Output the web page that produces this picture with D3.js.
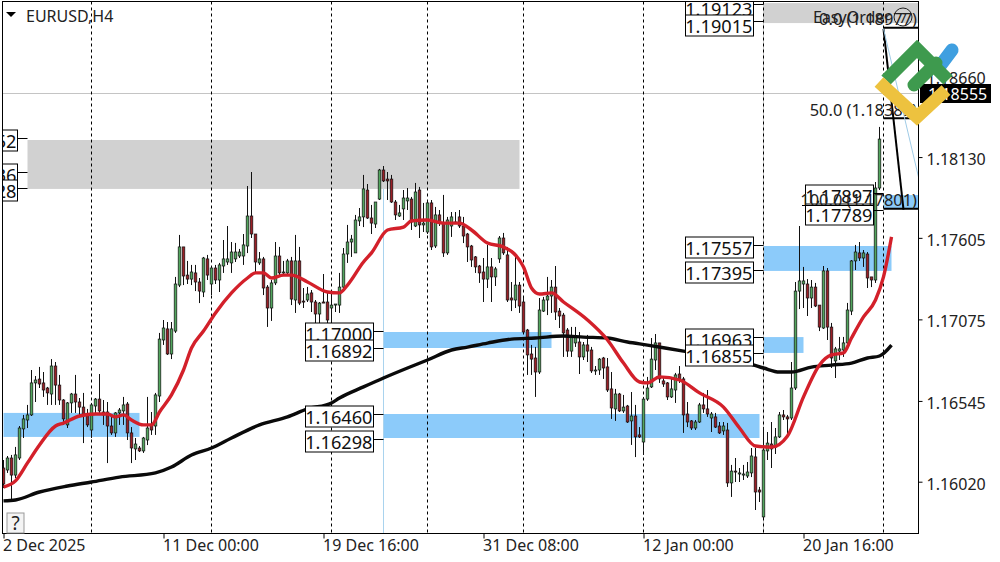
<!DOCTYPE html>
<html><head><meta charset="utf-8">
<script src="https://cdnjs.cloudflare.com/ajax/libs/d3/7.8.5/d3.min.js"></script>
<style>html,body{margin:0;padding:0;background:#fff}svg{display:block}text{font-family:"Noto Sans",Tahoma,sans-serif}</style>
</head><body><svg id="c" width="1000" height="562"></svg>
<script>
// Prices in points (1e-5)
const highs=[116174,116200,116207,116259,116395,116467,116532,116759,116720,116779,116746,116649,116830,116811,116727,116570,116551,116610,116727,116577,
116610,116506,116545,116577,116733,116564,116551,116467,116486,116512,116584,116551,116388,116317,116265,116324,116584,116486,116610,117000,
117084,117071,117071,117364,117637,117559,117468,117442,117442,117357,117494,117507,117429,117442,117455,117604,117695,117591,117585,117546,
117643,117955,118046,117643,117526,117494,117311,117344,117591,117559,117468,117481,117494,117637,117559,117292,117299,117279,117214,117201,
117383,117260,117260,117188,117390,117552,117702,117637,117767,117812,118027,117968,117832,117851,118066,118085,118046,118027,117864,117832,
117929,117942,117884,117975,117949,117845,117864,117864,117819,117799,117897,117754,117786,117786,117799,117754,117650,117572,117500,117442,
117487,117572,117487,117429,117630,117650,117559,117331,117520,117331,117227,117026,116922,116909,117227,117234,117364,117344,117435,117162,
117130,117032,117039,117039,117006,116941,116987,116909,116785,116837,116844,116837,116746,116636,116610,116597,116532,116616,116532,116388,
116584,116714,116967,116993,116935,116714,116681,116714,116740,116785,116714,116551,116434,116434,116545,116610,116629,116486,116480,116421,
116421,116415,116142,116187,116122,116142,116161,116252,116252,115999,116388,116356,116421,116382,116486,116499,116467,116811,117331,117695,
117429,117350,117344,117325,117181,117435,117422,117065,116909,116974,116974,117195,117474,117572,117591,117539,117526,117364,117981,118339];
const lows=[115992,116090,115914,116057,116174,116317,116382,116460,116551,116642,116584,116532,116532,116532,116532,116402,116382,116480,116480,116467,
116284,116388,116317,116467,116467,116402,116154,116337,116324,116402,116402,116304,116154,116174,116226,116220,116271,116337,116337,116551,
116922,116857,116830,117000,117298,117311,117318,117311,117272,117194,117233,117344,117246,117318,117266,117390,117442,117390,117461,117487,
117442,117519,117617,117390,117442,117246,117039,117078,117311,117376,117383,117376,117181,117130,117181,117162,117201,117136,117064,117064,
117194,117064,117064,117136,117130,117292,117455,117494,117520,117695,117688,117741,117643,117682,117864,117981,117864,117845,117734,117754,
117734,117799,117669,117688,117617,117656,117643,117539,117552,117695,117494,117507,117624,117708,117682,117584,117461,117429,117390,117325,
117201,117292,117201,117305,117455,117507,117201,117142,117162,117130,117000,116727,116727,116584,116733,117136,117116,117130,117084,117032,
116844,116844,116844,116909,116733,116824,116811,116740,116727,116727,116701,116616,116441,116428,116486,116480,116415,116272,116193,116317,
116207,116558,116642,116759,116675,116649,116564,116577,116545,116675,116350,116388,116369,116369,116415,116480,116454,116356,116382,116343,
116337,115999,115934,116031,116031,116044,116057,116063,115849,115901,115797,116174,116122,116213,116317,116434,116337,116434,116629,117155,
117162,117110,117162,117168,117012,117026,116954,116772,116707,116824,116844,116922,117116,117409,117468,117429,117292,117298,117325,117929];
const opens=[116122,116109,116187,116076,116187,116376,116434,116467,116675,116700,116675,116642,116603,116785,116661,116564,116402,116545,116603,116551,
116518,116467,116369,116525,116570,116486,116486,116395,116350,116480,116493,116538,116350,116246,116252,116233,116304,116402,116395,116590,
116954,117026,116863,117012,117311,117559,117376,117350,117390,117331,117266,117481,117318,117422,117344,117435,117461,117455,117481,117500,
117500,117565,117760,117643,117455,117481,117298,117162,117325,117500,117390,117390,117468,117214,117468,117207,117214,117260,117201,117123,
117201,117201,117162,117181,117181,117298,117513,117591,117520,117728,117754,117929,117747,117708,117870,118059,118000,118000,117851,117760,
117806,117858,117870,117695,117929,117702,117656,117845,117565,117767,117714,117520,117695,117714,117754,117695,117643,117565,117494,117435,
117396,117350,117429,117364,117481,117617,117507,117227,117214,117311,117201,117019,116863,116837,116746,117142,117214,117240,117298,117142,
117116,117019,116882,116935,116941,116844,116922,116889,116753,116759,116837,116779,116636,116506,116603,116493,116525,116428,116460,116337,
116291,116570,116649,116824,116935,116688,116675,116584,116629,116733,116701,116473,116428,116382,116421,116532,116506,116447,116454,116395,
116363,116369,116025,116102,116083,116076,116070,116090,116194,115979,115804,116233,116278,116258,116324,116467,116454,116447,116642,117272,
117318,117318,117227,117298,117181,117032,117403,117038,116818,116882,116889,116935,117142,117468,117520,117487,117513,117364,117344,117942];
const closes=[116018,116187,116076,116207,116382,116441,116467,116675,116694,116668,116629,116610,116785,116661,116564,116441,116545,116603,116551,116518,
116467,116402,116532,116570,116493,116467,116395,116350,116480,116499,116532,116350,116252,116278,116233,116317,116382,116369,116597,116960,
117032,116863,117026,117318,117559,117370,117350,117396,117331,117272,117487,117376,117422,117344,117442,117481,117481,117526,117526,117526,
117572,117760,117643,117461,117481,117292,117162,117325,117500,117390,117396,117468,117220,117468,117194,117201,117253,117201,117123,117194,
117194,117084,117181,117188,117298,117513,117591,117610,117734,117754,117936,117747,117714,117851,118059,117988,117988,117851,117767,117780,
117877,117877,117721,117916,117702,117714,117845,117559,117767,117714,117520,117734,117754,117721,117695,117630,117559,117474,117429,117390,
117350,117429,117364,117416,117617,117520,117214,117214,117311,117175,117006,116857,116830,116746,117149,117214,117240,117298,117136,117110,
117000,116882,116974,116980,116844,116922,116882,116753,116759,116830,116772,116629,116512,116603,116493,116518,116421,116460,116324,116324,
116570,116642,116830,116935,116701,116668,116584,116636,116727,116694,116467,116421,116382,116421,116532,116506,116473,116473,116388,116350,
116395,116025,116102,116096,116090,116083,116096,116200,115966,115966,116239,116284,116246,116324,116467,116454,116441,116642,117272,117338,
117338,117227,117298,117175,117038,117403,117038,116837,116896,116896,116935,117149,117468,117526,117487,117520,117357,117344,117942,118260];

const fastBars=[0,3,6,9,13,15,19,23,26,28,30,32,35,37,39,42,45,47,50,53,57,61,63,65,67,70,72,76,81,84,86,90,92,96,100,102,106,110,114,117,121,125,130,132,134,137,140,146,151,155,159,161,164,169,174,180,184,188,192,196,200,204,207,210,212,215,218,220,222];
const fastMA=[115998,116038,116155,116272,116395,116414,116460,116473,116473,116454,116467,116434,116402,116402,116486,116597,116759,116902,117012,117130,117260,117357,117390,117390,117357,117376,117376,117331,117266,117260,117311,117461,117520,117669,117688,117728,117734,117714,117714,117669,117584,117559,117429,117292,117253,117260,117201,117084,116954,116804,116681,116675,116714,116694,116610,116518,116382,116265,116258,116330,116584,116792,116857,116870,116967,117104,117214,117364,117624];
const slowBars=[0,3,9,16,22,29,38,42,47,52,57,64,71,76,82,84,90,95,101,106,112,116,121,127,133,140,145,151,156,161,170,182,190,194,197,202,207,212,216,219,222];
const slowMA=[115908,115914,115966,116005,116031,116063,116090,116128,116206,116252,116317,116402,116454,116506,116545,116577,116649,116707,116772,116824,116889,116908,116934,116960,116967,116980,116973,116967,116941,116921,116882,116837,116772,116746,116746,116778,116791,116804,116837,116850,116921];

const yTicks=[118660,118130,117605,117075,116545,116020];
const xTickBars=[0,40,80,120,160,200];
const xTickLabels=["2 Dec 2025","11 Dec 00:00","19 Dec 16:00","31 Dec 08:00","12 Jan 00:00","20 Jan 16:00"];
const daySepBars=[22,52,82,106,130,160,190,220];
const lastPrice=118555;

const zoneStart=[6,190,0,95,95,190,190,220];
const zoneEnd=[129,228.75,34,137,189,200,222,228.75];
const zoneHigh=[118254,119144,116480,117006,116473,116973,117565,117896];
const zoneLow=[117936,119014,116324,116902,116317,116870,117403,117812];
const zoneFill=["#d1d1d1","#d1d1d1","#8ccbfa","#8ccbfa","#8ccbfa","#8ccbfa","#8ccbfa","#8ccbfa"];

const levels=[119123,119015,117897,117789,117557,117395,116963,116855,117000,116892,116460,116298,118252,118036,117928];
const levelBar=[190,190,220,220,190,190,190,190,95,95,95,95,6,6,6];
const fibLevels=[118977,118389,117801];
const fibNames=["0.0","50.0","100.0"];

const svg=d3.select("#c");
const x=d3.scaleLinear().domain([0,220]).range([3.5,883.5]);
const y=d3.scaleLinear().domain([115914,117864]).range([500,200]);
const L=2.5,R=918.5,T=1.5,B=533.5;
const fmt=v=>(v/1e5).toFixed(5);
const GREEN="#52a65e",RED="#9a1f26";
const defs=svg.append("defs");
defs.append("clipPath").attr("id","plot").append("rect").attr("x",L).attr("y",T).attr("width",R-L).attr("height",B-T);
const plot=svg.append("g").attr("clip-path","url(#plot)");

plot.append("g").selectAll("rect").data(zoneStart).join("rect")
 .attr("x",d=>x(d)).attr("width",(d,i)=>x(zoneEnd[i])-x(d))
 .attr("y",(d,i)=>y(zoneHigh[i])).attr("height",(d,i)=>y(zoneLow[i])-y(zoneHigh[i]))
 .attr("fill",(d,i)=>zoneFill[i]).attr("opacity",1);

plot.append("line").attr("x1",L).attr("x2",R).attr("y1",93.5).attr("y2",93.5).attr("stroke","#c4c4c4");
plot.append("line").attr("x1",x(190)).attr("x2",x(190)).attr("y1",T).attr("y2",B).attr("stroke","#c8c8c8");
plot.append("line").attr("x1",x(95)).attr("x2",x(95)).attr("y1",y(117936)).attr("y2",B).attr("stroke","#a9d3ee");

plot.append("g").selectAll("line").data(daySepBars).join("line")
 .attr("x1",d=>x(d)).attr("x2",d=>x(d)).attr("y1",T).attr("y2",B)
 .attr("stroke","#000").attr("stroke-dasharray","3,3");

// candles
const g=plot.append("g").selectAll("g").data(opens).join("g");
g.append("line").attr("x1",(d,i)=>x(i)).attr("x2",(d,i)=>x(i))
 .attr("y1",(d,i)=>y(highs[i])).attr("y2",(d,i)=>y(lows[i])).attr("stroke","#111").attr("stroke-width",1);
g.append("rect").attr("x",(d,i)=>x(i)-1.3).attr("width",2.6)
 .attr("y",(d,i)=>y(Math.max(d,closes[i])))
 .attr("height",(d,i)=>Math.max(1,Math.abs(y(d)-y(closes[i]))))
 .attr("fill",(d,i)=>closes[i]>=d?GREEN:RED).attr("stroke","#111").attr("stroke-width",.7);

// level labels
const OFFSET=13;
const boxW=68,boxH=21;
const lab=svg.append("g").attr("clip-path","url(#plot)");
levels.forEach((v,i)=>{
  const zx=x(levelBar[i]), rx=zx-10;
  const ty=Math.round(y(v+OFFSET))+.5;
  const cy=Math.round(ty+(i<2||i==3?3:i>=6&&i<10?1.5:1))+.5;
  lab.append("line").attr("x1",rx).attr("x2",zx).attr("y1",ty).attr("y2",ty).attr("stroke","#000");
  lab.append("rect").attr("x",rx-boxW).attr("y",cy-boxH/2).attr("width",boxW).attr("height",boxH)
   .attr("fill","#fff").attr("stroke","#000");
  lab.append("text").attr("x",rx-1).attr("y",cy+.5).attr("text-anchor","end").attr("dominant-baseline","central")
   .attr("font-size",18.2).attr("fill","#111").text(fmt(v));
});

// moving averages
const line=d3.line().curve(d3.curveMonotoneX);
plot.append("path").attr("d",line(slowBars.map((b,i)=>[x(b),y(slowMA[i])]))).attr("fill","none").attr("stroke","#0a0a0a").attr("stroke-width",3.4);
svg.append("path").attr("d",line(fastBars.map((b,i)=>[x(b),y(fastMA[i])]))).attr("fill","none").attr("stroke","#d3202a").attr("stroke-width",3.4);

// frame
svg.append("rect").attr("x",L).attr("y",T).attr("width",R-L).attr("height",B-T).attr("fill","none").attr("stroke","#000");

// fib
const fib=plot.append("g");
fib.selectAll("line").data(fibLevels).join("line")
 .attr("x1",x(220)).attr("x2",x(229)).attr("y1",d=>y(d)-1).attr("y2",d=>y(d)-1).attr("stroke","#000").attr("stroke-width",2);
fib.append("line").attr("x1",x(220)).attr("y1",y(118977)).attr("x2",x(225)).attr("y2",y(117801)).attr("stroke","#000").attr("stroke-width",2);
fib.append("line").attr("x1",x(220)).attr("y1",y(118977)).attr("x2",x(228.75)).attr("y2",y(118013)).attr("stroke","#9fcbe6").attr("stroke-width",1);
fibLevels.forEach((v,i)=>{
  svg.append("text").attr("x",917).attr("y",y(v)-10).attr("text-anchor","end").attr("dominant-baseline","central")
   .attr("font-size",16.4).attr("fill","#222").text(`${fibNames[i]} (${fmt(v)})`);
});
svg.append("line").attr("x1",802).attr("x2",874).attr("y1",205.5).attr("y2",205.5).attr("stroke","#000");

// EasyOrder
svg.append("text").attr("x",813).attr("y",17).attr("dominant-baseline","central").attr("font-size",16).attr("fill","#222").text("EasyOrder");
svg.append("circle").attr("cx",903).attr("cy",17).attr("r",9).attr("fill","none").attr("stroke","#222");
svg.append("text").attr("x",903).attr("y",17).attr("text-anchor","middle").attr("dominant-baseline","central").attr("font-size",14).attr("fill","#222").text("7");

// axes
const ay=svg.append("g").attr("transform",`translate(${R},0)`).call(d3.axisRight(y).tickValues(yTicks).tickSize(4).tickFormat(fmt));
ay.select(".domain").remove();
ay.selectAll(".tick line").attr("stroke","#000").attr("transform","translate(0,-2)");
ay.selectAll(".tick text").attr("x",8).attr("dy","0.35em").attr("font-size",16).attr("font-family",'"Noto Sans",Tahoma,sans-serif').attr("fill","#222");
const ax=svg.append("g").attr("transform",`translate(0,${B})`).call(d3.axisBottom(x).tickValues(xTickBars).tickSize(5).tickFormat((d,i)=>xTickLabels[i]));
ax.select(".domain").remove();
ax.selectAll(".tick line").attr("stroke","#000");
ax.selectAll(".tick text").attr("text-anchor","start").attr("x",-1).attr("y",6.5).attr("dy","0.71em").attr("font-size",16).attr("font-family",'"Noto Sans",Tahoma,sans-serif').attr("fill","#222");

// last price
svg.append("rect").attr("x",920).attr("y",84).attr("width",71).attr("height",19).attr("fill","#000");
svg.append("text").attr("x",928).attr("y",93.5).attr("dominant-baseline","central").attr("font-size",16).attr("fill","#fff").text(fmt(lastPrice));

// title, help
svg.append("path").attr("d","M6,12 L16,12 L11,17 Z").attr("fill","#000");
svg.append("text").attr("x",26).attr("y",15.5).attr("dominant-baseline","central").attr("font-size",16).attr("fill","#222").text("EURUSD,H4");
svg.append("rect").attr("x",7).attr("y",513).attr("width",17).attr("height",20).attr("fill","#f4f4f4").attr("stroke","#999");
svg.append("text").attr("x",15.5).attr("y",523).attr("text-anchor","middle").attr("dominant-baseline","central").attr("font-size",19).attr("fill","#222").text("?");

// logo
const logo=svg.append("g").attr("fill","none").attr("stroke-width",13).attr("stroke-linecap","round").attr("stroke-linejoin","miter");
logo.append("path").attr("d","M940,66 L952,50").attr("stroke","#3f9fe0");
logo.append("path").attr("d","M886,80 L917,49 L948,80").attr("stroke","#3e9a4e").attr("stroke-linecap","butt");
logo.append("path").attr("d","M914,85 L936,63").attr("stroke","#3e9a4e");
logo.append("path").attr("d","M879,82 L917,117 L946,90").attr("stroke","#edc23f").attr("stroke-linecap","butt");
</script></body></html>
